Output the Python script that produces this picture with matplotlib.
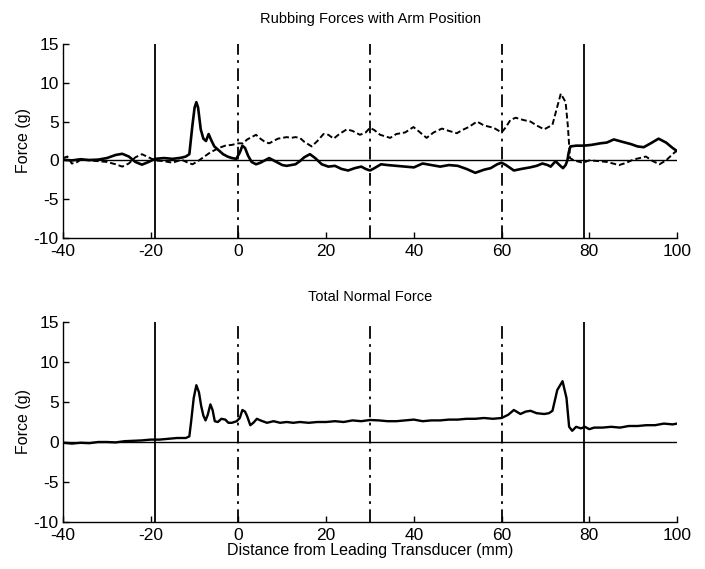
import matplotlib
matplotlib.use("Agg")
import matplotlib.pyplot as plt

plt.rcParams['font.family'] = ['Liberation Sans', 'DejaVu Sans']
plt.rcParams['axes.unicode_minus'] = False

# ---- Data ----
top_solid_x = [-40, -38, -36, -34, -32, -30, -28, -26.5, -25, -23.5, -22, -20.5, -19, -17, -15, -13, -12,
               -11.2, -10.5, -10, -9.6, -9.2, -8.6, -8, -7.4, -6.8, -6.2, -5.5, -4.5, -3.5, -2.5, -1.5, -0.5,
               0.3, 0.9, 1.5, 2.2, 3, 4, 5, 6, 7, 8, 9, 10, 11, 12, 13, 14, 15, 16.3, 17.5, 19, 20.5, 22,
               23.5, 25, 26.5, 28, 29, 30, 31, 32.5, 34, 36, 38, 40, 42, 44, 46, 48, 50, 52, 54, 56, 57.5,
               59, 60, 61, 62.8, 64.5, 66.5, 68, 69.3, 70.5, 71.2, 72.3, 73.2, 74, 74.6, 75, 75.3, 75.7, 77,
               78.8, 80.5, 82.5, 84, 85.6, 87.5, 89.5, 91, 92.4, 94, 95.8, 97.5, 99, 100]
top_solid_y = [0.1, 0.0, 0.15, 0.05, 0.1, 0.3, 0.7, 0.85, 0.5, -0.2, -0.55, -0.2, 0.2, 0.3, 0.2, 0.35, 0.5,
               0.8, 4.5, 6.8, 7.5, 6.8, 4.0, 2.8, 2.5, 3.4, 2.6, 1.8, 1.3, 0.8, 0.5, 0.3, 0.2,
               1.0, 1.9, 1.6, 0.6, -0.2, -0.5, -0.3, 0.0, 0.3, 0.0, -0.3, -0.6, -0.7, -0.6, -0.5, -0.1, 0.4,
               0.8, 0.3, -0.5, -0.8, -0.7, -1.1, -1.3, -1.0, -0.8, -1.1, -1.3, -1.0, -0.5, -0.6, -0.7, -0.8,
               -0.9, -0.4, -0.6, -0.8, -0.6, -0.7, -1.1, -1.6, -1.2, -1.0, -0.5, -0.3, -0.6, -1.3, -1.1,
               -0.9, -0.7, -0.4, -0.6, -0.8, -0.1, -0.6, -1.0, -0.6, 0.0, 1.0, 1.8, 1.9, 1.9, 2.0, 2.2,
               2.3, 2.7, 2.4, 2.1, 1.8, 1.7, 2.2, 2.8, 2.3, 1.6, 1.2]

top_dash_x = [-40, -39, -38, -37, -36, -34, -32, -30, -28, -26.5, -25, -23.5, -22, -20.5, -19, -17, -15,
              -13, -11.5, -10.5, -9.5, -8.5, -7.5, -6.5, -5.5, -4.5, -3, -1.5, 0, 1, 2, 3, 4, 5, 6, 7, 8,
              9, 10, 11, 12, 13, 14, 15, 16.7, 18, 19.4, 20.5, 21.7, 23, 24.7, 26, 27.7, 29, 30, 31, 32.3,
              34.6, 36, 38, 39.9, 41, 42.9, 44.5, 46.4, 48, 49.8, 51, 52.5, 54.4, 56, 58.2, 60, 61, 62,
              63.2, 65, 66.6, 68, 69.7, 70.7, 71.6, 72.5, 73.5, 74.6, 75.1, 75.4, 75.6, 76.5, 78.5, 80,
              82.3, 84, 86.8, 88.5, 90, 91.5, 92.9, 94.5, 96, 97.5, 99, 100]
top_dash_y = [0.3, 0.5, -0.4, -0.3, 0.1, 0.0, -0.1, -0.2, -0.5, -0.8, -0.4, 0.4, 0.8, 0.4, 0.0, -0.1, -0.3,
              0.1, -0.3, -0.5, -0.2, 0.2, 0.6, 1.0, 1.3, 1.6, 1.9, 2.0, 2.2, 2.2, 2.7, 3.0, 3.3, 2.8, 2.4,
              2.2, 2.5, 2.8, 2.9, 3.0, 2.9, 3.0, 2.9, 2.4, 1.8, 2.5, 3.4, 3.3, 2.8, 3.4, 4.0, 3.8, 3.3, 3.6,
              4.2, 3.9, 3.3, 2.9, 3.4, 3.6, 4.3, 3.8, 2.9, 3.6, 4.1, 3.8, 3.5, 3.9, 4.3, 5.0, 4.5, 4.2, 3.6,
              4.3, 5.2, 5.5, 5.2, 5.0, 4.5, 4.0, 4.3, 4.6, 6.5, 8.6, 7.5, 4.5, 2.0, 0.3, 0.0, -0.3, 0.0,
              -0.1, -0.2, -0.6, -0.3, 0.1, 0.3, 0.5, -0.1, -0.5, 0.0, 0.8, 1.3]

bot_x = [-40, -38, -36, -34, -32, -30, -28, -26, -24, -22, -20, -18, -16, -14, -12, -11.2, -10.8, -10.2,
         -9.6, -9, -8.5, -8, -7.5, -7, -6.4, -5.9, -5.4, -4.7, -3.9, -3, -2.3, -1.5, -0.4, 0.3, 0.9, 1.5,
         2.0, 2.7, 3.4, 4.2, 5, 6.5, 8, 9.5, 11, 12.5, 14, 16, 18, 20, 22, 24, 26, 28, 30, 32, 34, 36, 38,
         40, 42, 44, 46, 48, 50, 52, 54, 56, 58, 60, 61.5, 62.8, 64.3, 65.5, 66.6, 68, 69.7, 70.8, 71.6,
         72.7, 73.9, 74.8, 75.4, 76.1, 77, 78.1, 79, 80, 81.1, 83, 85, 87, 89, 91, 93, 95, 97, 99, 100]
bot_y = [-0.1, -0.2, -0.1, -0.15, 0.0, 0.0, -0.05, 0.1, 0.15, 0.2, 0.3, 0.3, 0.4, 0.5, 0.5, 0.7, 2.5, 5.5,
         7.1, 6.2, 4.5, 3.3, 2.7, 3.4, 4.7, 4.0, 2.6, 2.5, 2.9, 2.8, 2.4, 2.4, 2.6, 3.0, 4.0, 3.8, 3.2,
         2.1, 2.4, 2.9, 2.7, 2.4, 2.6, 2.4, 2.5, 2.4, 2.5, 2.4, 2.5, 2.5, 2.6, 2.5, 2.7, 2.6, 2.75, 2.7,
         2.6, 2.6, 2.7, 2.8, 2.6, 2.7, 2.7, 2.8, 2.8, 2.9, 2.9, 3.0, 2.9, 3.0, 3.4, 4.0, 3.5, 3.8, 3.9,
         3.6, 3.5, 3.6, 3.9, 6.5, 7.6, 5.5, 1.9, 1.4, 1.9, 1.7, 1.9, 1.6, 1.8, 1.8, 1.9, 1.8, 2.0, 2.0,
         2.1, 2.1, 2.3, 2.2, 2.3]

solid_vlines = [-19, 78.7]
dashdot_vlines = [0, 30, 60]
xticks = [-40, -20, 0, 20, 40, 60, 80, 100]
yticks = [-10, -5, 0, 5, 10, 15]

fig = plt.figure(figsize=(7.05, 5.69), dpi=100)
ax1 = fig.add_axes([0.0894, 0.5817, 0.8709, 0.341])
ax2 = fig.add_axes([0.0894, 0.0826, 0.8709, 0.3515])

dashdot = (0, (7, 3, 1.5, 3))

def style(ax, title):
    ax.set_xlim(-40, 100)
    ax.set_ylim(-10, 15)
    ax.set_xticks(xticks)
    ax.set_yticks(yticks)
    for s in ['top', 'right']:
        ax.spines[s].set_visible(False)
    for s in ['left', 'bottom']:
        ax.spines[s].set_linewidth(1.0)
    ax.tick_params(direction='in', length=4, width=1.0, labelsize=12.5)
    ax.tick_params(axis='x', pad=4.5)
    ax.tick_params(axis='y', pad=3)
    ax.set_ylabel('Force (g)', fontsize=11.5, labelpad=2)
    ax.set_title(title, fontsize=10.5, pad=15)
    ax.axhline(0, color='black', lw=1.0)
    for v in solid_vlines:
        ax.axvline(v, color='black', lw=1.3)
    for v in dashdot_vlines:
        ax.axvline(v, color='black', lw=1.3, linestyle=dashdot)

style(ax1, 'Rubbing Forces with Arm Position')
ax1.plot(top_solid_x, top_solid_y, color='black', lw=1.9)
ax1.plot(top_dash_x, top_dash_y, color='black', lw=1.4, linestyle=(0, (3, 1.5)))

style(ax2, 'Total Normal Force')
ax2.plot(bot_x, bot_y, color='black', lw=1.7)
ax2.set_xlabel('Distance from Leading Transducer (mm)', fontsize=11.5, labelpad=0)

fig.savefig('out.png', dpi=100)
